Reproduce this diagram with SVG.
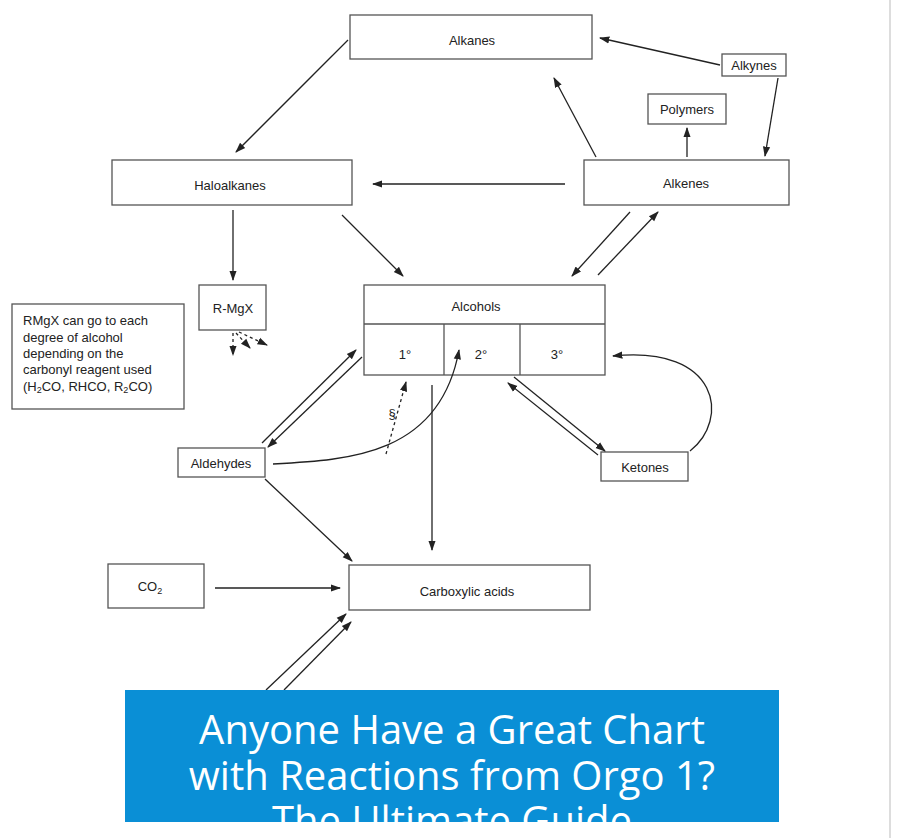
<svg xmlns="http://www.w3.org/2000/svg" width="904" height="838" viewBox="0 0 904 838">
<defs>
<style>
.b{fill:#fff;stroke:#555;stroke-width:1.3}
.t{font-family:"Liberation Sans",Arial,sans-serif;font-size:13px;fill:#222;text-anchor:middle}
.c{stroke:#222;stroke-width:1.3;fill:none}
.d{stroke:#222;stroke-width:1.3;fill:none;stroke-dasharray:3,3}
.bt{font-family:"Open Sans",sans-serif;font-size:40px;fill:#fff;text-anchor:middle}
</style>
<marker id="a" viewBox="0 0 10 10" refX="9" refY="5" markerWidth="8" markerHeight="8" orient="auto"><path d="M0,1.5L10,5L0,8.5z" fill="#222"/></marker>
<clipPath id="cl"><rect x="125" y="690" width="654" height="132"/></clipPath>
</defs>
<rect width="904" height="838" fill="#fff"/>
<line x1="890" y1="0" x2="890" y2="838" stroke="#ddd" stroke-width="2"/>
<g id="alkanes"><rect class="b" x="350" y="15" width="242" height="44"/><text class="t" x="472" y="45">Alkanes</text></g>
<g id="alkynes"><rect class="b" x="722" y="54" width="64" height="22"/><text class="t" x="754" y="70">Alkynes</text></g>
<g id="polymers"><rect class="b" x="648" y="94" width="78" height="30"/><text class="t" x="687" y="114">Polymers</text></g>
<g id="haloalkanes"><rect class="b" x="112" y="160" width="240" height="45"/><text class="t" x="230" y="190">Haloalkanes</text></g>
<g id="alkenes"><rect class="b" x="584" y="160" width="205" height="45"/><text class="t" x="686" y="188">Alkenes</text></g>
<g id="rmgx"><rect class="b" x="199" y="285" width="67" height="45"/><text class="t" x="233" y="313">R-MgX</text></g>
<g id="note"><rect class="b" x="12" y="304" width="172" height="105"/>
<text class="t" style="text-anchor:start" x="23" y="325">RMgX can go to each</text>
<text class="t" style="text-anchor:start" x="23" y="342">degree of alcohol</text>
<text class="t" style="text-anchor:start" x="23" y="358">depending on the</text>
<text class="t" style="text-anchor:start" x="23" y="374">carbonyl reagent used</text>
<text class="t" style="text-anchor:start" x="23" y="391">(H<tspan font-size="9" dy="2">2</tspan><tspan dy="-2">CO, RHCO, R</tspan><tspan font-size="9" dy="2">2</tspan><tspan dy="-2">CO)</tspan></text></g>
<g id="alcohols"><rect class="b" x="364" y="285" width="241" height="90"/><line class="b" x1="364" y1="324" x2="605" y2="324"/><line class="b" x1="444" y1="324" x2="444" y2="375"/><line class="b" x1="520" y1="324" x2="520" y2="375"/>
<text class="t" x="476" y="311">Alcohols</text><text class="t" x="405" y="359">1°</text><text class="t" x="481" y="359">2°</text><text class="t" x="557" y="359">3°</text></g>
<g id="aldehydes"><rect class="b" x="178" y="448" width="87" height="29"/><text class="t" x="221" y="468">Aldehydes</text></g>
<g id="ketones"><rect class="b" x="601" y="452" width="87" height="29"/><text class="t" x="645" y="472">Ketones</text></g>
<g id="co2"><rect class="b" x="108" y="564" width="96" height="44"/><text class="t" x="150" y="591">CO<tspan font-size="9" dy="3">2</tspan></text></g>
<g id="carboxylic"><rect class="b" x="349" y="565" width="241" height="45"/><text class="t" x="467" y="596">Carboxylic acids</text></g>
<g id="connectors">
<line class="c" x1="348" y1="40" x2="236" y2="152" marker-end="url(#a)"/>
<line class="c" x1="720" y1="65" x2="600" y2="38" marker-end="url(#a)"/>
<line class="c" x1="778" y1="78" x2="765" y2="156" marker-end="url(#a)"/>
<line class="c" x1="596" y1="157" x2="554" y2="78" marker-end="url(#a)"/>
<line class="c" x1="687" y1="157" x2="687" y2="128" marker-end="url(#a)"/>
<line class="c" x1="565" y1="184" x2="373" y2="184" marker-end="url(#a)"/>
<line class="c" x1="233" y1="210" x2="233" y2="280" marker-end="url(#a)"/>
<line class="c" x1="342" y1="215" x2="403" y2="276" marker-end="url(#a)"/>
<line class="c" x1="630" y1="212" x2="572" y2="276" marker-end="url(#a)"/>
<line class="c" x1="598" y1="275" x2="658" y2="212" marker-end="url(#a)"/>
<line class="d" x1="233" y1="333" x2="233" y2="355" marker-end="url(#a)"/>
<line class="d" x1="236" y1="333" x2="250" y2="348" marker-end="url(#a)"/>
<line class="d" x1="239" y1="332" x2="267" y2="345" marker-end="url(#a)"/>
<line class="c" x1="262" y1="443" x2="356" y2="350" marker-end="url(#a)"/>
<line class="c" x1="362" y1="357" x2="268" y2="447" marker-end="url(#a)"/>
<path class="c" d="M273,464 C350,460 440,455 459,350" marker-end="url(#a)"/>
<line class="d" x1="386" y1="454" x2="406" y2="382" marker-end="url(#a)"/>
<text class="t" x="392" y="418" font-size="11">§</text>
<line class="c" x1="432" y1="385" x2="432" y2="550" marker-end="url(#a)"/>
<line class="c" x1="514" y1="377" x2="605" y2="451" marker-end="url(#a)"/>
<line class="c" x1="598" y1="455" x2="508" y2="383" marker-end="url(#a)"/>
<path class="c" d="M690,451 C730,420 720,345 613,356" marker-end="url(#a)"/>
<line class="c" x1="265" y1="479" x2="352" y2="561" marker-end="url(#a)"/>
<line class="c" x1="215" y1="588" x2="340" y2="588" marker-end="url(#a)"/>
<line class="c" x1="266" y1="690" x2="346" y2="614" marker-end="url(#a)"/>
<line class="c" x1="284" y1="690" x2="351" y2="622" marker-end="url(#a)"/>
</g>
<rect x="125" y="690" width="654" height="132" fill="#0a8fd6"/>
<g clip-path="url(#cl)">
<text class="bt" x="452" y="744">Anyone Have a Great Chart</text>
<text class="bt" x="452" y="790">with Reactions from Orgo 1?</text>
<text class="bt" x="452" y="835">The Ultimate Guide</text>
</g>
</svg>
